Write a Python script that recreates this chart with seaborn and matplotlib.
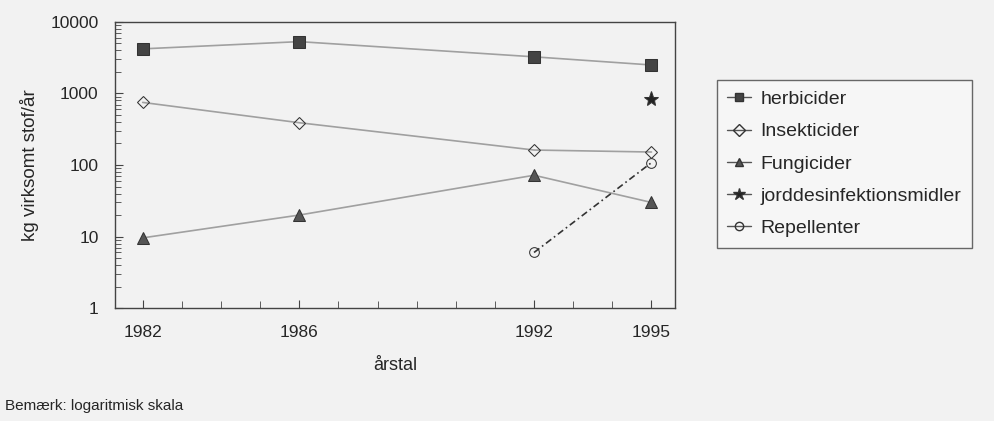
import numpy as np
import matplotlib
matplotlib.use('Agg')
import matplotlib.pyplot as plt
from matplotlib.ticker import LogLocator, NullFormatter, FixedLocator
import seaborn as sns
import pandas as pd

years = [1982, 1986, 1992, 1995]
herbicider = [4200, 5300, 3250, 2500]
insekticider = [750, 390, 162, 152]
fungicider = [9.6, 20, 72, 30]
jord = [np.nan, np.nan, np.nan, 830]
repellenter = [np.nan, np.nan, 6, 108]

names = ['herbicider', 'Insekticider', 'Fungicider',
         'jorddesinfektionsmidler', 'Repellenter']
series = [herbicider, insekticider, fungicider, jord, repellenter]

rows = []
for name, vals in zip(names, series):
    for yr, v in zip(years, vals):
        rows.append({'år': yr, 'kg': v, 'stof': name})
df = pd.DataFrame(rows).dropna()

sns.set_style('ticks')
plt.rcParams['font.family'] = ['Liberation Sans', 'DejaVu Sans']

bg = '#f2f2f2'
fig = plt.figure(figsize=(9.94, 4.21), dpi=100, facecolor=bg)
ax = fig.add_axes([0.116, 0.268, 0.563, 0.68])
ax.set_facecolor(bg)

palette = {'herbicider': '#a0a0a0', 'Insekticider': '#a0a0a0',
           'Fungicider': '#a0a0a0', 'jorddesinfektionsmidler': '#a0a0a0',
           'Repellenter': '#333333'}
markers = {'herbicider': 's', 'Insekticider': 'D', 'Fungicider': '^',
           'jorddesinfektionsmidler': '*', 'Repellenter': 'o'}
dashes = {'herbicider': '', 'Insekticider': '', 'Fungicider': '',
          'jorddesinfektionsmidler': '', 'Repellenter': (4, 2, 1, 2)}

sns.lineplot(data=df, x='år', y='kg', hue='stof', style='stof',
             palette=palette, markers=markers, dashes=dashes,
             hue_order=names, style_order=names, ax=ax,
             markersize=8, linewidth=1.2, legend=False)

# marker styling like the scan
face = {'herbicider': '#444444', 'Insekticider': 'none', 'Fungicider': '#555555',
        'jorddesinfektionsmidler': '#222222', 'Repellenter': 'none'}
for line, name in zip(ax.get_lines(), names):
    line.set_markerfacecolor(face[name])
    line.set_markeredgecolor('#333333')
    if name == 'Insekticider':
        line.set_markersize(6)
    if name == 'Repellenter':
        line.set_markersize(7)
    if name == 'jorddesinfektionsmidler':
        line.set_markersize(11)

ax.set_yscale('log')
ax.set_ylim(1, 10000)
ax.set_xlim(1981.3, 1995.6)
ax.set_yticks([1, 10, 100, 1000, 10000])
ax.set_yticklabels(['1', '10', '100', '1000', '10000'])
ax.yaxis.set_minor_locator(LogLocator(base=10, subs=np.arange(2, 10)))
ax.yaxis.set_minor_formatter(NullFormatter())
ax.set_xticks(years)
ax.set_xticklabels([str(y) for y in years])
ax.xaxis.set_minor_locator(FixedLocator(range(1982, 1996)))
ax.tick_params(axis='both', which='both', direction='in', color='#444444')
ax.tick_params(axis='both', which='major', length=6, labelsize=12.5, pad=12)
ax.tick_params(axis='y', which='minor', length=4)
ax.tick_params(axis='x', which='minor', length=5)
for s in ax.spines.values():
    s.set_color('#444444')
    s.set_linewidth(1.0)

ax.set_xlabel('årstal', fontsize=13)
ax.set_ylabel('kg virksomt stof/år', fontsize=13.5, labelpad=8)
ax.xaxis.set_label_coords(0.50, -0.17)

handles = []
for name in names:
    h, = ax.plot([], [], marker=markers[name], color='#555555',
                 markerfacecolor=face[name], markeredgecolor='#333333',
                 markersize=6 if name != 'jorddesinfektionsmidler' else 9,
                 linewidth=1, label=name)
    handles.append(h)
leg = fig.legend(handles=handles, loc='upper left',
                 bbox_to_anchor=(0.721, 0.81), borderaxespad=0,
                 frameon=True, fancybox=False,
                 fontsize=14, handlelength=1.2, handletextpad=0.5,
                 labelspacing=0.75, borderpad=0.55)
leg.get_frame().set_edgecolor('#444444')
leg.get_frame().set_facecolor('#f8f8f8')
leg.get_frame().set_linewidth(1.0)

fig.text(0.005, 0.025, 'Bemærk: logaritmisk skala', fontsize=11)

fig.savefig('out.png', dpi=100, facecolor=bg)
